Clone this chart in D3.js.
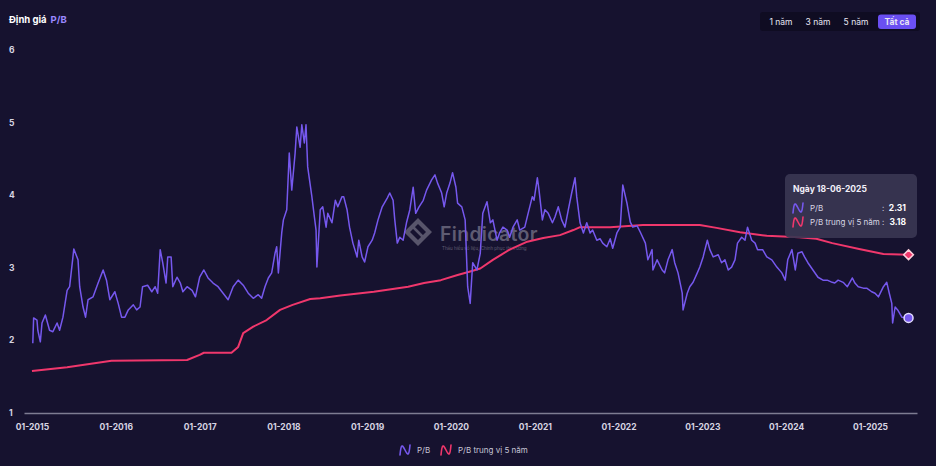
<!DOCTYPE html>
<html><head><meta charset="utf-8">
<script src="https://cdn.jsdelivr.net/npm/d3@7"></script>
<style>
html,body{margin:0;padding:0;background:#16122f;}
svg{display:block;font-family:Inter,"Noto Sans",sans-serif;}
</style></head>
<body><svg id="c" width="936" height="466"></svg>
<script>
// ---------- DATA (decimal years) ----------
const pbYears = [2015.01,2015.02,2015.06,2015.07,2015.10,2015.12,2015.16,2015.21,2015.25,2015.30,2015.33,2015.37,2015.42,2015.45,2015.50,2015.55,2015.57,2015.61,2015.64,2015.67,2015.73,2015.79,2015.85,2015.89,2015.93,2015.99,2016.03,2016.07,2016.11,2016.15,2016.21,2016.25,2016.29,2016.32,2016.38,2016.43,2016.47,2016.50,2016.53,2016.56,2016.60,2016.62,2016.66,2016.68,2016.73,2016.77,2016.80,2016.85,2016.91,2016.95,2017.00,2017.05,2017.10,2017.16,2017.22,2017.28,2017.34,2017.40,2017.46,2017.52,2017.58,2017.64,2017.70,2017.74,2017.78,2017.82,2017.86,2017.90,2017.92,2017.94,2017.98,2018.00,2018.04,2018.07,2018.10,2018.14,2018.16,2018.20,2018.22,2018.25,2018.27,2018.29,2018.34,2018.37,2018.39,2018.40,2018.44,2018.47,2018.51,2018.53,2018.58,2018.62,2018.65,2018.70,2018.72,2018.76,2018.79,2018.83,2018.88,2018.90,2018.94,2018.97,2019.01,2019.06,2019.09,2019.13,2019.18,2019.24,2019.27,2019.31,2019.33,2019.36,2019.39,2019.43,2019.47,2019.51,2019.55,2019.58,2019.62,2019.67,2019.71,2019.77,2019.81,2019.84,2019.89,2019.92,2019.95,2019.99,2020.02,2020.06,2020.08,2020.13,2020.17,2020.20,2020.23,2020.26,2020.31,2020.35,2020.38,2020.43,2020.47,2020.50,2020.55,2020.58,2020.62,2020.67,2020.70,2020.74,2020.79,2020.82,2020.88,2020.92,2020.97,2020.99,2021.03,2021.05,2021.09,2021.12,2021.16,2021.21,2021.24,2021.28,2021.32,2021.36,2021.40,2021.44,2021.48,2021.50,2021.54,2021.58,2021.62,2021.66,2021.69,2021.74,2021.78,2021.81,2021.86,2021.90,2021.93,2021.98,2022.02,2022.05,2022.10,2022.14,2022.17,2022.22,2022.26,2022.32,2022.35,2022.40,2022.41,2022.46,2022.52,2022.55,2022.59,2022.64,2022.67,2022.71,2022.76,2022.77,2022.82,2022.85,2022.89,2022.94,2022.97,2023.01,2023.06,2023.09,2023.13,2023.19,2023.23,2023.27,2023.31,2023.35,2023.39,2023.42,2023.47,2023.51,2023.54,2023.59,2023.63,2023.66,2023.72,2023.77,2023.83,2023.89,2023.95,2023.99,2024.02,2024.07,2024.11,2024.14,2024.19,2024.22,2024.26,2024.32,2024.38,2024.44,2024.49,2024.55,2024.58,2024.62,2024.68,2024.73,2024.79,2024.82,2024.86,2024.92,2024.96,2025.02,2025.06,2025.10,2025.16,2025.20,2025.23,2025.26,2025.27,2025.30,2025.33,2025.38,2025.46];
const pbValues = [1.96,2.31,2.28,2.14,1.98,2.24,2.35,2.14,2.12,2.24,2.14,2.32,2.69,2.74,3.26,3.11,2.74,2.46,2.32,2.56,2.60,2.79,2.97,2.83,2.56,2.67,2.51,2.32,2.32,2.42,2.49,2.42,2.46,2.74,2.76,2.67,2.74,2.65,3.25,3.07,2.79,3.15,3.15,2.74,2.87,2.79,2.67,2.74,2.69,2.60,2.87,2.97,2.86,2.79,2.74,2.65,2.56,2.74,2.83,2.76,2.65,2.58,2.63,2.58,2.74,2.86,2.93,3.20,3.29,2.93,3.48,3.66,3.80,4.58,4.07,4.58,4.94,4.66,4.97,4.72,4.97,4.39,3.98,3.70,3.52,3.01,3.80,3.84,3.56,3.75,3.62,3.93,3.84,3.98,3.98,3.80,3.56,3.34,3.15,3.38,3.15,3.08,3.29,3.38,3.48,3.66,3.84,3.96,4.03,3.93,3.66,3.34,3.42,3.38,3.62,3.80,4.11,3.75,3.84,3.93,4.07,4.21,4.28,4.17,4.03,3.84,4.03,4.17,4.31,4.11,3.89,3.84,3.66,2.74,2.51,3.07,2.97,3.20,3.75,3.91,3.62,3.66,3.38,3.48,3.56,3.52,3.42,3.56,3.66,3.52,3.56,3.75,3.98,3.93,4.24,4.07,3.66,3.80,3.75,3.62,3.70,3.84,3.66,3.56,3.80,4.03,4.24,3.98,3.62,3.48,3.62,3.48,3.52,3.38,3.40,3.34,3.29,3.40,3.27,3.48,3.56,4.14,3.89,3.63,3.56,3.58,3.49,3.34,3.11,3.25,2.97,3.11,2.97,2.93,3.11,3.25,3.07,2.93,2.65,2.42,2.65,2.74,2.80,2.93,3.01,3.15,3.38,3.25,3.15,3.18,3.07,3.11,2.97,3.01,3.11,3.34,3.42,3.38,3.56,3.38,3.34,3.25,3.25,3.15,3.11,3.01,2.93,2.83,3.11,3.25,2.97,3.20,3.22,3.15,3.07,2.97,2.87,2.83,2.83,2.80,2.79,2.83,2.80,2.74,2.86,2.79,2.74,2.72,2.72,2.67,2.65,2.60,2.74,2.80,2.65,2.51,2.24,2.46,2.42,2.32,2.31];

const medYears = [2015.00,2015.42,2015.95,2016.85,2017.00,2017.05,2017.38,2017.46,2017.52,2017.64,2017.80,2017.96,2018.11,2018.32,2018.44,2018.68,2019.08,2019.49,2019.68,2019.88,2020.08,2020.23,2020.35,2020.50,2020.70,2020.91,2021.10,2021.30,2021.46,2021.54,2021.90,2022.29,2022.97,2023.17,2023.45,2023.77,2024.16,2024.36,2024.55,2024.87,2025.16,2025.46];
const medValues = [1.58,1.63,1.72,1.73,1.80,1.83,1.83,1.91,2.10,2.19,2.28,2.42,2.49,2.57,2.58,2.62,2.67,2.74,2.79,2.83,2.90,2.95,2.99,3.11,3.25,3.36,3.41,3.45,3.52,3.56,3.56,3.59,3.59,3.55,3.49,3.44,3.42,3.40,3.34,3.26,3.19,3.18];

const yTicks = [1,2,3,4,5,6];
const rangeButtons = ["1 năm","3 năm","5 năm","Tất cả"];
const seriesNames = ["P/B","P/B trung vị 5 năm"];
const tooltipDate = "Ngày 18-06-2025";
const lastValues = ["2.31","3.18"];

// ---------- helpers ----------
function yearToDate(t){
  const y = Math.floor(t);
  const start = new Date(y,0,1), end = new Date(y+1,0,1);
  return new Date(start.getTime() + (t-y)*(end-start));
}
const pb = pbYears.map((t,i)=>({d:yearToDate(t), v:pbValues[i]}));
const med = medYears.map((t,i)=>({d:yearToDate(t), v:medValues[i]}));

const C_PB = "#7658ee", C_MED = "#f0376c", BG = "#16122f";
const svg = d3.select("#c");
svg.append("rect").attr("width",936).attr("height",466).attr("fill",BG);

const x = d3.scaleTime().domain([yearToDate(2014.905), yearToDate(2025.561)]).range([24, 917]);
const y = d3.scaleLinear().domain([1,6]).range([413, 50]);

// title
const title = svg.append("text").attr("x",9).attr("y",23).attr("font-size",9.5).attr("font-weight",700);
title.append("tspan").attr("fill","#ffffff").text("Định giá");
title.append("tspan").attr("fill","#9a88ff").attr("dx",4).text("P/B");

// range buttons
const bg = svg.append("g");
bg.append("rect").attr("x",760).attr("y",12).attr("width",160).attr("height",19).attr("rx",3).attr("fill","#0f0c22");
const btnX = [781, 818, 856, 897];
rangeButtons.forEach((b,i)=>{
  if(i===3){
    bg.append("rect").attr("x",878).attr("y",14.5).attr("width",38).attr("height",14.5).attr("rx",3).attr("fill","#6a4ff2");
  }
  bg.append("text").attr("x",btnX[i]).attr("y",25).attr("text-anchor","middle")
    .attr("font-size",8.5).attr("font-weight",i===3?700:400).attr("fill","#e8e6f2").text(b);
});

// y axis labels
svg.append("g").selectAll("text").data(yTicks).join("text")
  .attr("x",9).attr("y",d=>y(d)+3).attr("font-size",8.5).attr("font-weight",700)
  .attr("fill","#d6d4e2").text(d=>d);

// x axis
const xa = svg.append("g").attr("transform",`translate(0,${y(1)})`)
  .call(d3.axisBottom(x).ticks(d3.timeYear.every(1)).tickFormat(d3.timeFormat("%m-%Y")).tickSize(0).tickPadding(11));
xa.select(".domain").attr("stroke","#7e7c92").attr("stroke-width",1.5);
xa.selectAll("text").attr("fill","#d6d4e2").attr("font-size",8.5).attr("font-weight",700)
  .attr("font-family","Inter,'Noto Sans',sans-serif");

// watermark
const wm = svg.append("g").attr("opacity",0.5);
wm.append("path").attr("d","M418,218 L432,232 L418,246 L404,232 Z M418,224 L426,232 L418,240 L410,232 Z")
  .attr("fill","#9a98a8").attr("fill-rule","evenodd");
wm.append("path").attr("d","M412,226 L420,234 M416,230 L424,238").attr("stroke","#9a98a8").attr("stroke-width",2.5);
wm.append("text").attr("x",440).attr("y",241).attr("font-size",19.5).attr("font-weight",600)
  .attr("fill","#a6a4b4").attr("letter-spacing",0.3).text("Findicator");
wm.append("text").attr("x",442).attr("y",250).attr("font-size",4.5).attr("fill","#a6a4b4")
  .text("Thấu hiểu số liệu, Chinh phục thị trường");

// lines
const line = d3.line().x(d=>x(d.d)).y(d=>y(d.v)).curve(d3.curveLinear);
svg.append("path").datum(med).attr("d",line).attr("fill","none").attr("stroke",C_MED).attr("stroke-width",2).attr("stroke-linejoin","round");
svg.append("path").datum(pb).attr("d",line).attr("fill","none").attr("stroke",C_PB).attr("stroke-width",1.5).attr("stroke-linejoin","round");

// endpoint markers
const lm = med[med.length-1], lp = pb[pb.length-1];
svg.append("path").attr("d",d3.symbol(d3.symbolDiamond2 || d3.symbolSquare, 60)())
  .attr("transform",`translate(${x(lm.d)},${y(lm.v)}) rotate(${d3.symbolDiamond2?0:45})`)
  .attr("fill",C_MED).attr("stroke","#ffd0dc").attr("stroke-width",1.5);
svg.append("circle").attr("cx",x(lp.d)).attr("cy",y(lp.v)).attr("r",4.5)
  .attr("fill",C_PB).attr("stroke","#e4ddff").attr("stroke-width",1.5);

// squiggle icon
function icon(g, cx, cy, color){
  g.append("path").attr("d",`M${cx-5},${cy+5} C${cx-4},${cy-6} ${cx-3},${cy-6} ${cx},${cy} S${cx+4},${cy+6} ${cx+5},${cy-5}`)
   .attr("fill","none").attr("stroke",color).attr("stroke-width",1.6).attr("stroke-linecap","round");
}

// tooltip
const tt = svg.append("g");
tt.append("rect").attr("x",785).attr("y",174).attr("width",132).attr("height",64).attr("rx",5)
  .attr("fill","#3a3652").attr("opacity",0.92);
tt.append("text").attr("x",793).attr("y",192).attr("font-size",8.5).attr("font-weight",700).attr("fill","#f2f0fa").text(tooltipDate);
[C_PB, C_MED].forEach((c,i)=>{
  const yy = 208 + i*14;
  icon(tt, 798, yy, c);
  tt.append("text").attr("x",810).attr("y",yy+3).attr("font-size",8).attr("fill","#d8d6e4").text(seriesNames[i]);
  tt.append("text").attr("x",882).attr("y",yy+3).attr("font-size",8).attr("fill","#d8d6e4").text(":");
  tt.append("text").attr("x",906).attr("y",yy+3).attr("text-anchor","end").attr("font-size",8.5).attr("font-weight",700).attr("fill","#ffffff").text(lastValues[i]);
});

// legend
const lg = svg.append("g");
const legX = [405, 446];
[C_PB, C_MED].forEach((c,i)=>{
  icon(lg, legX[i], 450, c);
  lg.append("text").attr("x",legX[i]+12).attr("y",453).attr("font-size",8).attr("fill","#c8c6d6").text(seriesNames[i]);
});
</script></body></html>
